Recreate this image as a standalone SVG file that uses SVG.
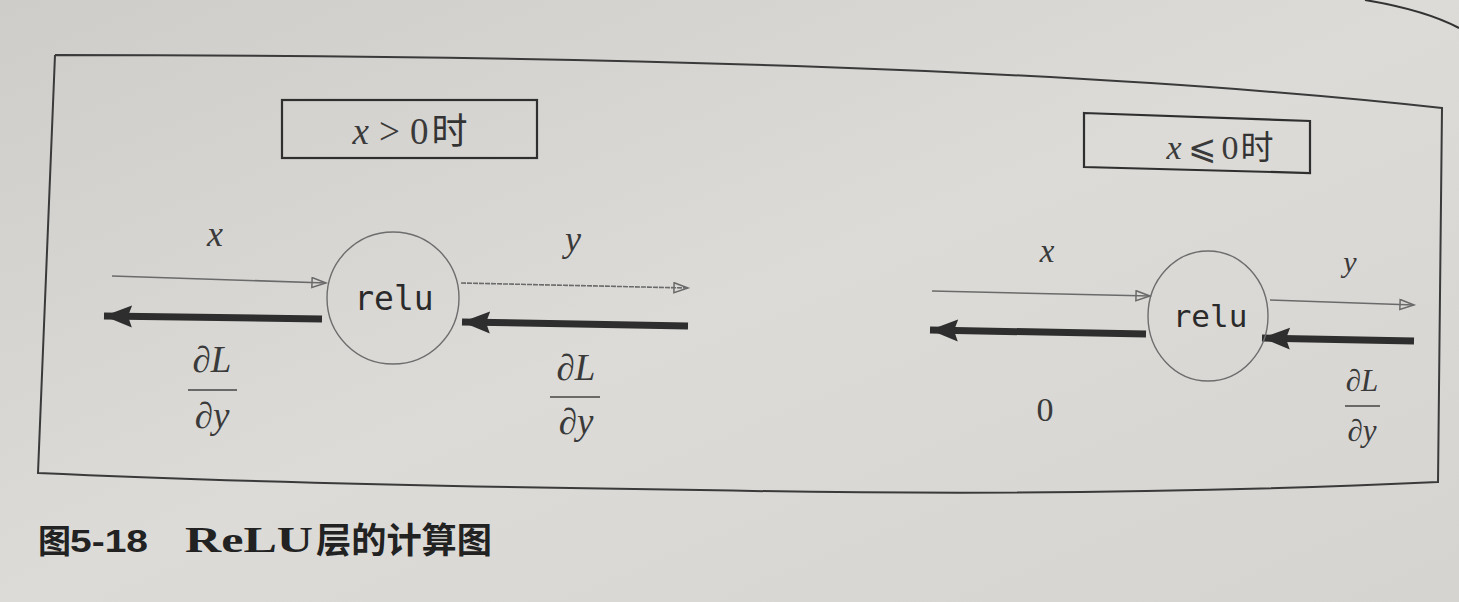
<svg xmlns="http://www.w3.org/2000/svg" width="1459" height="602" viewBox="0 0 1459 602">
<defs>
<linearGradient id="bg" x1="0" y1="0" x2="1" y2="1">
<stop offset="0" stop-color="#cfcdca"/>
<stop offset="0.5" stop-color="#dcdbd8"/>
<stop offset="1" stop-color="#d6d4d1"/>
</linearGradient>
<marker id="open" markerUnits="userSpaceOnUse" markerWidth="18" markerHeight="14" refX="15" refY="6" orient="auto" viewBox="0 0 18 14">
<path d="M1,1 L15,6 L1,11 Z" fill="none" stroke="#6a6a6a" stroke-width="1.5"/>
</marker>
<marker id="solid" markerUnits="userSpaceOnUse" markerWidth="30" markerHeight="24" refX="28" refY="12" orient="auto" viewBox="0 0 30 24">
<path d="M0,1 L28,12 L0,23 L4,12 Z" fill="#2e2e2e"/>
</marker>
<style>
.frame{fill:none;stroke:#3a3a3a;stroke-width:2}
.box{fill:none;stroke:#2f2f2f;stroke-width:2.2}
.node{fill:none;stroke:#6d6d6d;stroke-width:1.4}
.thin{stroke:#6a6a6a;stroke-width:1.6;fill:none;marker-end:url(#open)}
.thick{stroke:#2e2e2e;stroke-width:7;fill:none;marker-end:url(#solid)}
.math{font-family:"Liberation Serif","DejaVu Serif",serif;fill:#3a3a3a}
.it{font-style:italic}
.mono{font-family:"DejaVu Sans Mono","Liberation Mono",monospace;fill:#2a2a2a}
.cjk{font-family:"Noto Sans CJK SC",sans-serif;fill:#333}
.frac{stroke:#444;stroke-width:1.6}
.cap{font-weight:bold;fill:#222}
</style>
</defs>
<rect x="0" y="0" width="1459" height="602" fill="url(#bg)"/>
<path d="M1365,0 Q1425,10 1459,28" fill="none" stroke="#333" stroke-width="2"/>
<g id="frame">
<path class="frame" d="M55,55 C600,55 1100,70 1442,108 L1438,482 Q1100,498 700,490 Q300,485 38,473 L55,55"/>
</g>
<g id="connectors">
<line class="thin" x1="112" y1="276" x2="326" y2="283"/>
<line class="thin" x1="461" y1="283" x2="688" y2="288" stroke-dasharray="5 1"/>
<line class="thick" x1="322" y1="319" x2="104" y2="316"/>
<line class="thick" x1="688" y1="326" x2="462" y2="322"/>
<line class="thin" x1="932" y1="291" x2="1150" y2="296"/>
<line class="thin" x1="1270" y1="300" x2="1414" y2="305"/>
<line class="thick" x1="1146" y1="334" x2="930" y2="330"/>
<line class="thick" x1="1414" y1="341" x2="1262" y2="338"/>
</g>
<g id="cond-pos">
<rect class="box" x="282" y="100" width="255" height="58"/>
<text x="410" y="144" text-anchor="middle" font-size="37"><tspan class="math it">x</tspan><tspan class="math" dx="10">&gt;</tspan><tspan class="math" dx="10">0</tspan><tspan class="cjk" font-size="36" dx="3">时</tspan></text>
</g>
<g id="cond-neg">
<path class="box" d="M1084,113 L1310,121 L1310,173 L1084,167 Z"/>
<text x="1220" y="159" text-anchor="middle" font-size="34"><tspan class="math it">x</tspan><tspan class="math" dx="6">⩽</tspan><tspan class="math" dx="6">0</tspan><tspan class="cjk" font-size="33" dx="2">时</tspan></text>
</g>
<g id="relu-pos">
<circle class="node" cx="393" cy="298" r="66"/>
<text class="mono" x="394" y="310" text-anchor="middle" font-size="33">relu</text>
</g>
<g id="relu-neg">
<ellipse class="node" cx="1208" cy="316" rx="60" ry="65"/>
<text class="mono" x="1210" y="327" text-anchor="middle" font-size="31">relu</text>
</g>
<g id="labels">
<text class="math it" x="215" y="246" text-anchor="middle" font-size="36">x</text>
<text class="math it" x="573" y="251" text-anchor="middle" font-size="36">y</text>
<text class="math" x="212" y="372" text-anchor="middle" font-size="37">∂<tspan class="it">L</tspan></text>
<line class="frac" x1="188" y1="390" x2="237" y2="390"/>
<text class="math" x="212" y="428" text-anchor="middle" font-size="37">∂<tspan class="it">y</tspan></text>
<text class="math" x="576" y="380" text-anchor="middle" font-size="37">∂<tspan class="it">L</tspan></text>
<line class="frac" x1="550" y1="397" x2="600" y2="397"/>
<text class="math" x="576" y="434" text-anchor="middle" font-size="37">∂<tspan class="it">y</tspan></text>
<text class="math it" x="1047" y="262" text-anchor="middle" font-size="33">x</text>
<text class="math it" x="1350" y="272" text-anchor="middle" font-size="30">y</text>
<text class="math" x="1045" y="421" text-anchor="middle" font-size="34">0</text>
<text class="math" x="1362" y="391" text-anchor="middle" font-size="31">∂<tspan class="it">L</tspan></text>
<line class="frac" x1="1345" y1="406" x2="1380" y2="406"/>
<text class="math" x="1362" y="441" text-anchor="middle" font-size="31">∂<tspan class="it">y</tspan></text>
</g>
<g id="caption">
<text class="cap cjk" x="38" y="553" font-size="33">图</text>
<text class="cap" x="70" y="552" font-size="31" font-family="Liberation Sans,sans-serif" textLength="78" lengthAdjust="spacingAndGlyphs">5-18</text>
<text class="cap" x="185" y="552" font-size="35" font-family="Liberation Serif,serif" textLength="128" lengthAdjust="spacingAndGlyphs">ReLU</text>
<text class="cap cjk" x="316" y="553" font-size="35" textLength="176" lengthAdjust="spacingAndGlyphs">层的计算图</text>
</g>
</svg>
